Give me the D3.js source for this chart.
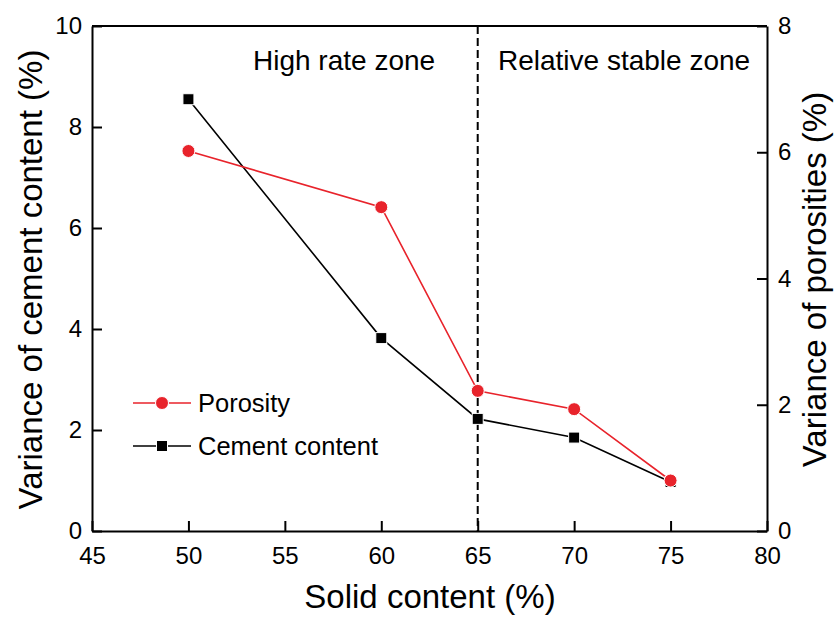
<!DOCTYPE html>
<html>
<head>
<meta charset="utf-8">
<script src="https://cdn.jsdelivr.net/npm/d3@7"></script>
<style>
  body { margin: 0; background: #fff; }
  svg { display: block; font-family: "Liberation Sans", Arial, sans-serif; }
</style>
</head>
<body>
<svg id="chart" width="835" height="617"></svg>
<script>
// Solid content levels (%)
const solidContent = [50, 60, 65, 70, 75];
// Variance of cement content (%), left axis
const cementVariance = [8.55, 3.82, 2.22, 1.85, 0.97];
// Variance of porosities (%), right axis
const porosityVariance = [6.02, 5.13, 2.22, 1.93, 0.80];

const xTicks = [45, 50, 55, 60, 65, 70, 75, 80];
const leftTicks = [0, 2, 4, 6, 8, 10];
const rightTicks = [0, 2, 4, 6, 8];
const zoneBoundary = 65;
const zoneLabels = ["High rate zone", "Relative stable zone"];

const red = "#e8232b";
const svg = d3.select("#chart");
const plot = { left: 92, right: 767, top: 26, bottom: 531 };

const x = d3.scaleLinear().domain([45, 80]).range([plot.left, plot.right]);
const yL = d3.scaleLinear().domain([0, 10]).range([plot.bottom, plot.top]);
const yR = d3.scaleLinear().domain([0, 8]).range([plot.bottom, plot.top]);

// Axes with inward ticks
const styleAxis = g => {
  g.select(".domain").attr("stroke", "#000").attr("stroke-width", 2);
  g.selectAll(".tick line").attr("stroke", "#000").attr("stroke-width", 2);
  g.selectAll(".tick text").attr("fill", "#000")
    .style("font-size", "24px").style("font-family", "Liberation Sans, Arial, sans-serif");
};

svg.append("g").attr("transform", `translate(0,${plot.bottom})`)
  .call(d3.axisBottom(x).tickValues(xTicks).tickSize(-10).tickSizeOuter(0).tickPadding(16))
  .call(styleAxis);

svg.append("g").attr("transform", `translate(${plot.left},0)`)
  .call(d3.axisLeft(yL).tickValues(leftTicks).tickSize(-10).tickSizeOuter(0).tickPadding(10))
  .call(styleAxis);

svg.append("g").attr("transform", `translate(${plot.right},0)`)
  .call(d3.axisRight(yR).tickValues(rightTicks).tickSize(-10).tickSizeOuter(0).tickPadding(11))
  .call(styleAxis);

// top frame line
svg.append("line")
  .attr("x1", plot.left).attr("x2", plot.right)
  .attr("y1", plot.top).attr("y2", plot.top)
  .attr("stroke", "#000").attr("stroke-width", 2);

// zone divider
svg.append("line")
  .attr("x1", x(zoneBoundary)).attr("x2", x(zoneBoundary))
  .attr("y1", plot.top).attr("y2", plot.bottom)
  .attr("stroke", "#000").attr("stroke-width", 2)
  .attr("stroke-dasharray", "8,4");

// zone labels
svg.append("text").attr("x", 253).attr("y", 70)
  .style("font-size", "28px").text(zoneLabels[0]);
svg.append("text").attr("x", 498).attr("y", 70)
  .style("font-size", "28px").text(zoneLabels[1]);

// axis titles
svg.append("text")
  .attr("x", (plot.left + plot.right) / 2 + 0.5).attr("y", 608)
  .attr("text-anchor", "middle").style("font-size", "33px")
  .text("Solid content (%)");

svg.append("text")
  .attr("transform", `translate(42,${(plot.top + plot.bottom) / 2 + 1}) rotate(-90)`)
  .attr("text-anchor", "middle").style("font-size", "33px")
  .text("Variance of cement content (%)");

svg.append("text")
  .attr("transform", `translate(826,${(plot.top + plot.bottom) / 2 + 1}) rotate(-90)`)
  .attr("text-anchor", "middle").style("font-size", "33px")
  .text("Variance of porosities (%)");

// series
const cementData = solidContent.map((s, i) => [s, cementVariance[i]]);
const porosityData = solidContent.map((s, i) => [s, porosityVariance[i]]);

const lineL = d3.line().x(d => x(d[0])).y(d => yL(d[1]));
const lineR = d3.line().x(d => x(d[0])).y(d => yR(d[1]));

svg.append("path").datum(cementData)
  .attr("fill", "none").attr("stroke", "#000").attr("stroke-width", 1.6)
  .attr("d", lineL);
svg.append("path").datum(porosityData)
  .attr("fill", "none").attr("stroke", red).attr("stroke-width", 1.6)
  .attr("d", lineR);

const sq = 11;
svg.append("g").selectAll("rect").data(cementData).join("rect")
  .attr("x", d => x(d[0]) - sq / 2).attr("y", d => yL(d[1]) - sq / 2)
  .attr("width", sq).attr("height", sq)
  .attr("fill", "#000").attr("stroke", "#fff").attr("stroke-width", 1);

svg.append("g").selectAll("circle").data(porosityData).join("circle")
  .attr("cx", d => x(d[0])).attr("cy", d => yR(d[1])).attr("r", 6.5)
  .attr("fill", red).attr("stroke", "#fff").attr("stroke-width", 1);

// legend
const legend = svg.append("g");
const legendItems = [
  { label: "Porosity", color: red, shape: "circle", y: 403 },
  { label: "Cement content", color: "#000", shape: "square", y: 446 }
];
legendItems.forEach(item => {
  legend.append("line").attr("x1", 133).attr("x2", 191)
    .attr("y1", item.y).attr("y2", item.y)
    .attr("stroke", item.color).attr("stroke-width", 1.6);
  if (item.shape === "circle") {
    legend.append("circle").attr("cx", 162).attr("cy", item.y).attr("r", 6.5)
      .attr("fill", item.color).attr("stroke", "#fff").attr("stroke-width", 1);
  } else {
    legend.append("rect").attr("x", 162 - sq / 2).attr("y", item.y - sq / 2)
      .attr("width", sq).attr("height", sq)
      .attr("fill", item.color).attr("stroke", "#fff").attr("stroke-width", 1);
  }
  legend.append("text").attr("x", 198).attr("y", item.y + 9)
    .style("font-size", "25.5px").text(item.label);
});
</script>
</body>
</html>
